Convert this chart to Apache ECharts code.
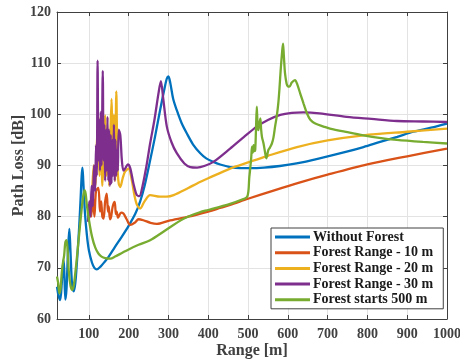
<!DOCTYPE html>
<html>
<head>
<meta charset="utf-8">
<script src="https://cdn.jsdelivr.net/npm/echarts@6/dist/echarts.min.js"></script>
<style>
  html, body { margin: 0; padding: 0; background: #fff; }
  #chart { width: 460px; height: 364px; }
</style>
</head>
<body>
<div id="chart"></div>
<script>
// values: [range m, path loss dB]
const seriesNames = ['Without Forest', 'Forest Range - 10 m', 'Forest Range - 20 m', 'Forest Range - 30 m', 'Forest starts 500 m'];
const seriesColors = ['#0072BD', '#D95319', '#EDB120', '#7E2F8E', '#77AC30'];
const rangeTicks = [100, 200, 300, 400, 500, 600, 700, 800, 900, 1000];

const withoutForest = [
  [20,66.3],[24,64.5],[28,63.7],[32,67],[36,71.5],[38,70],[41,63.8],[44,66],[48,74],[51,77.6],[54,73],[58,66.5],
  [62,65.4],[66,67],[70,71],[75,77],[79,83],[82,88],[84,89.6],[86,87],[90,81],[95,76.5],[100,73.5],[108,71],
  [114,70],[120,69.7],[130,70.3],[140,71.2],[150,72.2],[165,74],[183,76.1],[200,78.2],[217,80.6],[229,83],
  [240,86],[254,91],[266,95.5],[279,100.8],[290,105],[296,107],[300,107.4],[305,106],[312,103],[321,100.8],
  [333,98.3],[346,96.3],[362,94.1],[380,92.4],[395,91.4],[413,90.7],[430,90.2],[455,89.7],[480,89.5],[505,89.5],
  [540,89.6],[580,89.9],[622,90.4],[680,91.4],[748,92.7],[790,93.6],[832,94.6],[875,95.6],[915,96.6],[960,97.4],[1000,98.2]
];

const forest10 = [
  [100,79],[103,83],[106,80],[110,84],[114,80],[118,85],[124,85.6],[128,81],[131,83],[134,80],[137,79.6],[141,83],
  [145,84.5],[148,81],[150,82],[153,79.5],[156,80],[160,82],[165,82.9],[168,80.5],[170,81],[173,79.8],[175,80],
  [181,80.8],[187,80.6],[195,79.5],[204,78.4],[215,78.8],[225,79.5],[237,79.3],[255,78.8],[271,78.6],
  [300,79.2],[350,80],[400,81],[430,81.7],[455,82.3],[500,83.5],[560,85],[631,86.7],[700,88.2],[800,90.2],
  [900,91.8],[1000,93.3]
];

const forest20 = [
  [108,84],[112,90],[116,86],[120,94],[124,99.5],[127,88],[131,96],[134,86],[138,92],[141,99.8],[145,88],
  [148,97],[151,86],[154,96],[157,103],[160,88],[163,100],[166,87],[169,104.5],[172,90],[175,86.5],[179,85.8],
  [185,87.5],[191,88.8],[200,89.4],[208,87.1],[215,84],[221,82.3],[229,81.6],[240,83],[254,84.2],[279,83.9],
  [296,83.9],[313,84.2],[350,85.6],[372,86.5],[400,87.5],[455,89.4],[500,90.6],[550,91.9],[623,93.6],[700,94.9],
  [790,95.9],[900,96.6],[1000,97.2]
];

const forest30 = [
  [98,79],[101,83],[104,80],[107,86],[110,82],[113,90],[116,85],[118,94],[120,88],[122,110.5],[124,91],[126,99],
  [128,89],[130,100.5],[132,90],[135,108.5],[137,91],[139,98],[141,87],[143,97],[145,89],[147,99.5],[149,87],
  [151,97],[153,86],[155,96],[157,86.5],[159,95],[161,88],[163,98],[165,87],[167,95],[169,88],[171,93],
  [173,89],[175,97],[179,96],[183,91],[187,89],[192,89.5],[198,90.2],
  [204,89.5],[212,86.5],[220,84.3],[227,84],[235,86],[245,90],[254,94.3],[265,99],[275,104.1],[281,106.5],
  [287,103],[296,97.6],[308,94.5],[321,92.4],[340,90.4],[355,89.7],[372,89.6],[390,89.9],[413,90.7],[455,93.3],
  [490,95.6],[522,97.6],[550,98.9],[581,99.9],[610,100.3],[639,100.4],[680,100.2],[748,99.5],[810,99.1],
  [874,98.7],[940,98.6],[1000,98.5]
];

const forestFrom500 = [
  [20,68.3],[23,67],[26,65],[29,66],[32,69],[35,71],[38,72.5],[41,75],[44,75.4],[47,73],[50,69],[54,66.5],
  [58,65.7],[62,66.5],[66,69],[70,72],[75,76],[80,80],[85,83.5],[89,85.2],[92,84.5],[95,82.3],[100,79.5],
  [108,76.1],[116,74],[124,72.8],[132,72.2],[141,71.9],[154,71.8],[166,72.2],[183,72.9],[200,73.6],[225,74.5],
  [254,75.4],[290,77.2],[338,79.6],[380,80.9],[400,81.3],[455,82.5],[480,83.2],[497,83.8],[501,85],[503,87.5],
  [505,89],[508,91.5],[510,93.7],[512,92.5],[514,94],[516,92.8],[518,93],[520,97],[522,101.5],[524,98],
  [526,96.9],[528,98],[531,99.2],[533,97],[535,95.6],[539,94.3],[543,92.5],[546,91.4],[551,93],[555,93.5],
  [560,94.3],[564,95.5],[568,97.6],[572,99.5],[576,102.1],[579,105],[582,108.6],[586,112.5],[588,113.8],
  [590,111.5],[593,108],[597,106],[600,105.5],[604,105.4],[610,106.2],[618,106.7],[624,105.8],[631,104.1],
  [640,102],[648,100.2],[656,99],[669,98.2],[690,97.6],[706,97.2],[750,96.5],[790,95.9],[830,95.4],[874,95],
  [940,94.6],[1000,94.3]
];

const seriesData = [withoutForest, forest10, forest20, forest30, forestFrom500];

const chart = echarts.init(document.getElementById('chart'));
const font = 'Liberation Serif';
const axisColor = '#404040';

const xCommon = {
  type: 'value', min: 20, max: 1000,
  axisLine: { show: true, lineStyle: { color: axisColor, width: 1 } },
  axisTick: { inside: true, length: 4, customValues: rangeTicks, lineStyle: { color: axisColor } },
  splitLine: { show: false }
};
const yCommon = {
  type: 'value', min: 60, max: 120, interval: 10,
  axisLine: { show: true, lineStyle: { color: axisColor, width: 1 } },
  axisTick: { inside: true, length: 4, lineStyle: { color: axisColor } },
  splitLine: { show: false }
};

chart.setOption({
  animation: false,
  backgroundColor: '#fff',
  grid: { left: 57, right: 13, top: 12, bottom: 45, outerBoundsMode: 'none', containLabel: false },
  xAxis: [
    Object.assign({}, xCommon, {
      position: 'bottom',
      name: 'Range [m]', nameLocation: 'middle', nameGap: 24, nameMoveOverlap: false,
      nameTextStyle: { fontFamily: font, fontWeight: 'bold', fontSize: 16, color: axisColor },
      axisLabel: {
        customValues: rangeTicks, margin: 8, fontFamily: font, fontWeight: 'bold', fontSize: 14, color: axisColor,
        formatter: v => String(v)
      },
      splitLine: { show: true, lineStyle: { color: '#e3e3e3', width: 1 } }
    }),
    Object.assign({}, xCommon, { position: 'top', axisLabel: { show: false } })
  ],
  yAxis: [
    Object.assign({}, yCommon, {
      position: 'left',
      name: 'Path Loss [dB]', nameLocation: 'middle', nameGap: 30, nameMoveOverlap: false,
      nameTextStyle: { fontFamily: font, fontWeight: 'bold', fontSize: 16, color: axisColor },
      axisLabel: { margin: 6, fontFamily: font, fontWeight: 'bold', fontSize: 14, color: axisColor },
      splitLine: { show: true, lineStyle: { color: '#e3e3e3', width: 1 } }
    }),
    Object.assign({}, yCommon, { position: 'right', axisLabel: { show: false } })
  ],
  legend: {
    left: 271, top: 228, orient: 'vertical',
    padding: [2, 10, 2, 4], itemGap: 1.7,
    itemWidth: 35, itemHeight: 3, icon: 'rect',
    backgroundColor: '#fff', borderColor: axisColor, borderWidth: 1, borderRadius: 0,
    textStyle: { fontFamily: font, fontWeight: 'bold', fontSize: 14, lineHeight: 14, color: '#1a1a1a', padding: [0, 0, 0, -2] },
    data: seriesNames
  },
  series: seriesNames.map((name, i) => ({
    name: name, type: 'line',
    data: seriesData[i],
    symbol: 'none', smooth: 0.3,
    lineStyle: { color: seriesColors[i], width: 2.3 },
    itemStyle: { color: seriesColors[i] }
  }))
});
</script>
</body>
</html>
